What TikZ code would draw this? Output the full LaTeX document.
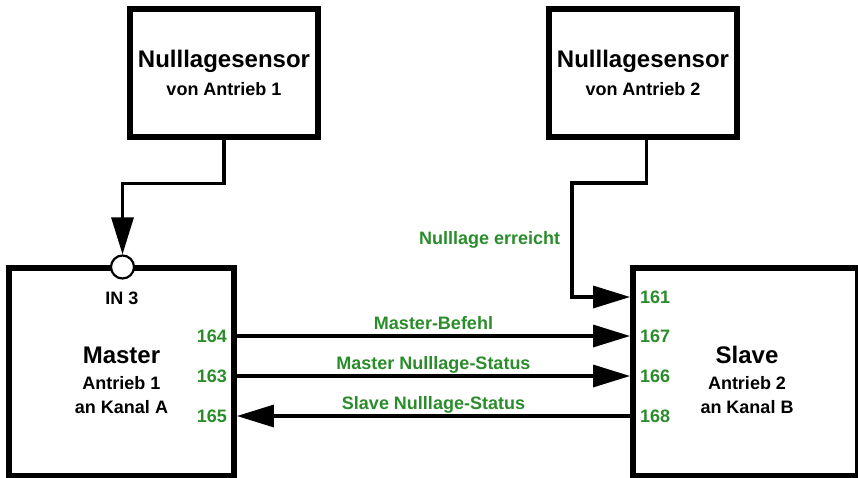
\documentclass[tikz,border=0pt]{standalone}
\usepackage{fontspec}
\setmainfont{Liberation Sans}
\usetikzlibrary{arrows.meta}
\definecolor{sigGreen}{RGB}{42,140,42}

\begin{document}
\begin{tikzpicture}[
    x=1pt, y=-1pt,
    every node/.style={font=\bfseries\fontsize{18}{24}\selectfont},
    unit/.style={draw, line width=5.8pt, inner sep=0pt},
    sensor/.style={unit, minimum width=188pt, minimum height=128pt, align=center},
    drive/.style={unit, minimum width=225pt, minimum height=208pt},
    port/.style={text=sigGreen, inner sep=0pt},
    lbl/.style={text=sigGreen, anchor=base, yshift=7pt},
    sig/.style={line width=3.2pt, -{Triangle[length=37pt, width=22pt]}}
  ]
  \useasboundingbox (0,0) rectangle (858,477);

  % Sensoren
  \node[sensor] (sens1) at (224,73) {{\fontsize{24}{28}\selectfont Nulllagesensor}\\[4pt] von Antrieb 1};
  \node[sensor] (sens2) at (643,73) {{\fontsize{24}{28}\selectfont Nulllagesensor}\\[4pt] von Antrieb 2};

  % Antriebe
  \node[drive] (master) at (121.5,372) {};
  \node[drive] (slave)  at (745.5,372) {};
  \node[align=center] (mtext) at (121.5,380) {{\fontsize{24}{28}\selectfont Master}\\[2pt] Antrieb 1\\ an Kanal A};
  \node[align=center] (stext) at (747,380) {{\fontsize{24}{28}\selectfont Slave}\\[2pt] Antrieb 2\\ an Kanal B};
  \node[circle, draw, fill=white, line width=2.2pt, minimum size=23pt, inner sep=0pt] (in3) at (122.5,267) {};
  \node (in3txt) at (122,298) {IN 3};

  % Anschluesse
  \node[port, anchor=east] (p164) at (227,336) {164};
  \node[port, anchor=east] (p163) at (227,376) {163};
  \node[port, anchor=east] (p165) at (227,416) {165};
  \node[port, anchor=west] (p161) at (640,297) {161};
  \node[port, anchor=west] (p167) at (640,336) {167};
  \node[port, anchor=west] (p166) at (640,376) {166};
  \node[port, anchor=west] (p168) at (640,416) {168};

  % Signale
  \draw[sig] (sens1.south) -- ++(0,43.5) -| (in3.north);
  \draw[sig] ([xshift=3.5pt]sens2.south) -- ++(0,43) -- ++(-74.5,0)
    |- node[pos=0.25, left=7pt, text=sigGreen] (lnull) {Nulllage erreicht} (slave.west |- p161);
  \draw[sig] (master.east |- p164) -- node[lbl] (lcmd) {Master-Befehl} (slave.west |- p167);
  \draw[sig] (master.east |- p163) -- node[lbl] (lmst) {Master Nulllage-Status} (slave.west |- p166);
  \draw[sig] (slave.west |- p168) -- node[lbl] (lslv) {Slave Nulllage-Status} (master.east |- p165);
\end{tikzpicture}
\end{document}
